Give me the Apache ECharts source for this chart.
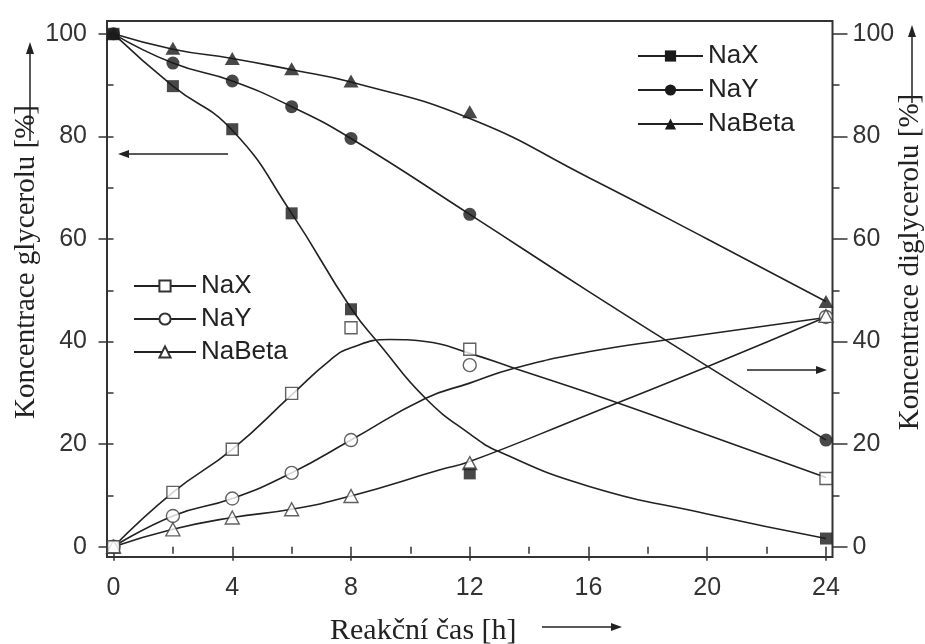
<!DOCTYPE html>
<html><head><meta charset="utf-8">
<script src="https://cdn.jsdelivr.net/npm/echarts@6/dist/echarts.min.js"></script>
<style>html,body{margin:0;padding:0;background:#fff}#c{width:925px;height:644px}</style>
</head><body><div id="c"></div>
<script>
// ---- measured data (reaction time in h) ----
const times = [0, 2, 4, 6, 8, 12, 24];
// glycerol concentration [%] (filled markers, left axis)
const glyNaX    = [100, 89.8, 81.4, 65.0, 46.3, 14.3, 1.6];
const glyNaY    = [100, 94.3, 90.8, 85.8, 79.6, 64.8, 20.8];
const glyNaBeta = [100, 97.2, 95.2, 93.2, 90.8, 84.8, 47.8];
// diglycerol concentration [%] (open markers, right axis)
const digNaX    = [0, 10.6, 19.0, 29.9, 42.7, 38.5, 13.3];
const digNaY    = [0, 6.0, 9.4, 14.4, 20.8, 35.4, 44.8];
const digNaBeta = [0, 3.4, 5.7, 7.3, 9.9, 16.3, 45.0];

// ---- fitted curves ----
const fitGlyNaX_x    = [0, 2, 4, 6, 8, 9, 10.5, 12, 13, 16, 20, 24];
const fitGlyNaX_y    = [100, 89.8, 81.2, 65.0, 46.5, 39.2, 29.0, 22.0, 18.5, 11.8, 6.4, 1.6];
const fitGlyNaY_x    = [0, 2, 4, 6, 8, 12, 16, 20, 24];
const fitGlyNaY_y    = [100, 94.3, 90.8, 85.8, 79.6, 64.8, 49.8, 35.2, 20.8];
const fitGlyNaBeta_x = [0, 2, 4, 6, 8, 12, 16, 20, 24];
const fitGlyNaBeta_y = [100, 97.0, 95.2, 93.0, 90.6, 83.5, 72.0, 60.0, 47.8];
const fitDigNaX_x    = [0, 2, 4, 6, 7.3, 8, 9.3, 10.5, 12, 13.5, 16, 20.2, 24];
const fitDigNaX_y    = [0, 10.6, 19.0, 29.6, 36.4, 38.8, 40.4, 40.0, 37.7, 34.8, 30.0, 21.4, 13.5];
const fitDigNaY_x    = [0, 2, 4, 6, 8, 10.5, 12, 13.5, 16, 18.7, 24];
const fitDigNaY_y    = [0, 6.0, 9.4, 14.4, 20.8, 28.9, 31.9, 34.8, 38.0, 40.4, 44.7];
const fitDigNaBeta_x = [0, 2, 4, 6, 8, 11, 12, 16, 20, 24];
const fitDigNaBeta_y = [0, 3.4, 5.7, 7.3, 9.9, 15.0, 16.6, 25.8, 35.1, 44.8];

// ---- ticks ----
const xTicks = [0, 4, 8, 12, 16, 20, 24];
const xMinorTicks = [2, 6, 10, 14, 18, 22];
const yTicks = [0, 20, 40, 60, 80, 100];
const yMinorTicks = [10, 30, 50, 70, 90];

const legendNamesGly = ['NaX', 'NaY', 'NaBeta'];
const legendNamesDig = ['NaX-DG', 'NaY-DG', 'NaBeta-DG'];

const SANS = '"Liberation Sans", Arial, Helvetica, sans-serif';
const SERIF = '"Liberation Serif", "Times New Roman", serif';
const INK = '#222';
const AX = '#333';

function zip(a, b) { return a.map((v, i) => [v, b[i]]); }

const XMIN = -0.22, XMAX = 24.22, YMIN = -2, YMAX = 102.5;

function xAxisDef(ticks, len, labels) {
  return {
    type: 'value', min: XMIN, max: XMAX, position: 'bottom',
    axisLine: { show: false }, splitLine: { show: false },
    axisTick: { show: true, customValues: ticks, length: len, lineStyle: { color: AX, width: 1.5 } },
    axisLabel: labels ? { show: true, customValues: ticks, margin: 19, fontSize: 25, color: AX, fontFamily: SANS } : { show: false }
  };
}
function yAxisDef(pos, ticks, len, labels) {
  return {
    type: 'value', min: YMIN, max: YMAX, position: pos,
    axisLine: { show: false }, splitLine: { show: false },
    axisTick: { show: true, customValues: ticks, length: len, lineStyle: { color: AX, width: 1.5 } },
    axisLabel: labels ? { show: true, customValues: ticks, margin: 20, fontSize: 25, color: AX, fontFamily: SANS } : { show: false }
  };
}

function curve(name, xs, ys, symbol, filled, yAxisIndex) {
  return {
    type: 'line', name, data: zip(xs, ys), yAxisIndex,
    smooth: 0.5, showSymbol: false, symbol, symbolSize: 12,
    lineStyle: { color: INK, width: 1.6 },
    itemStyle: filled ? { color: '#1a1a1a' } : { color: '#fff', borderColor: '#333', borderWidth: 1.3 },
    z: 2, silent: true, animation: false
  };
}
function marks(name, ys, symbol, size, filled, yAxisIndex, z) {
  return {
    type: 'scatter', name, data: zip(times, ys), yAxisIndex,
    symbol, symbolSize: size,
    itemStyle: filled ? { color: '#1a1a1a' } : { color: '#fff', borderColor: '#3a3a3a', borderWidth: 1.4 },
    z, silent: true, animation: false
  };
}

function hArrow(x1, x2, y) {
  const d = Math.sign(x2 - x1);
  return [
    { type: 'line', shape: { x1, y1: y, x2: x2 - d * 6, y2: y }, style: { stroke: INK, lineWidth: 1.5 } },
    { type: 'polygon', shape: { points: [[x2, y], [x2 - d * 11, y - 4], [x2 - d * 11, y + 4]] }, style: { fill: INK } }
  ];
}
function vArrow(x, y1, y2) {
  return [
    { type: 'line', shape: { x1: x, y1, x2: x, y2: y2 + 6 }, style: { stroke: INK, lineWidth: 1.5 } },
    { type: 'polygon', shape: { points: [[x, y2], [x - 4, y2 + 12], [x + 4, y2 + 12]] }, style: { fill: INK } }
  ];
}

const chart = echarts.init(document.getElementById('c'), null, { renderer: 'canvas' });
chart.setOption({
  animation: false,
  backgroundColor: '#fff',
  grid: { left: 107, right: 92.5, top: 21, bottom: 87, show: true, borderColor: AX, borderWidth: 2, backgroundColor: 'transparent', outerBoundsMode: 'none' },
  xAxis: [xAxisDef(xTicks, 14, true), xAxisDef(xMinorTicks, 7, false)],
  yAxis: [
    yAxisDef('left', yTicks, 15, true),
    yAxisDef('left', yMinorTicks, 7, false),
    yAxisDef('right', yTicks, 15, true),
    yAxisDef('right', yMinorTicks, 7, false)
  ],
  legend: [
    {
      data: legendNamesGly, orient: 'vertical', left: 632, top: 38,
      itemWidth: 65, itemHeight: 14, itemGap: 8, selectedMode: false,
      textStyle: { fontSize: 26, color: INK, fontFamily: SANS, lineHeight: 26 }
    },
    {
      data: legendNamesDig, orient: 'vertical', left: 128, top: 268,
      itemWidth: 62, itemHeight: 14, itemGap: 7, selectedMode: false,
      formatter: n => n.replace('-DG', ''),
      textStyle: { fontSize: 26, color: INK, fontFamily: SANS, lineHeight: 26 }
    }
  ],
  series: [
    curve('NaX', fitGlyNaX_x, fitGlyNaX_y, 'rect', true, 0),
    curve('NaY', fitGlyNaY_x, fitGlyNaY_y, 'circle', true, 0),
    curve('NaBeta', fitGlyNaBeta_x, fitGlyNaBeta_y, 'triangle', true, 0),
    curve('NaX-DG', fitDigNaX_x, fitDigNaX_y, 'rect', false, 2),
    curve('NaY-DG', fitDigNaY_x, fitDigNaY_y, 'circle', false, 2),
    curve('NaBeta-DG', fitDigNaBeta_x, fitDigNaBeta_y, 'triangle', false, 2),
    marks('m-dig-NaY', digNaY, 'circle', 13, false, 2, 5),
    marks('m-dig-NaBeta', digNaBeta, 'triangle', [14, 13], false, 2, 6),
    marks('m-dig-NaX', digNaX, 'rect', 12, false, 2, 7),
    marks('m-gly-NaBeta', glyNaBeta, 'triangle', [15, 13], true, 0, 8),
    marks('m-gly-NaY', glyNaY, 'circle', 13, true, 0, 9),
    marks('m-gly-NaX', glyNaX, 'rect', 12, true, 0, 10)
  ],
  graphic: [
    { type: 'text', style: { x: 330, y: 631, text: 'Reakční čas [h]', font: '30px ' + SERIF, fill: INK, align: 'left', verticalAlign: 'middle' } },
    ...hArrow(542, 622, 627),
    { type: 'text', x: 26, y: 262, rotation: Math.PI / 2, style: { x: 0, y: 0, text: 'Koncentrace glycerolu [%]', font: '29px ' + SERIF, fill: INK, align: 'center', verticalAlign: 'middle' } },
    ...vArrow(30, 141, 42),
    { type: 'text', x: 910, y: 262, rotation: Math.PI / 2, style: { x: 0, y: 0, text: 'Koncentrace diglycerolu [%]', font: '29px ' + SERIF, fill: INK, align: 'center', verticalAlign: 'middle' } },
    ...vArrow(912, 103, 25),
    ...hArrow(228, 118, 154),
    ...hArrow(747, 827, 370)
  ]
});
</script></body></html>
